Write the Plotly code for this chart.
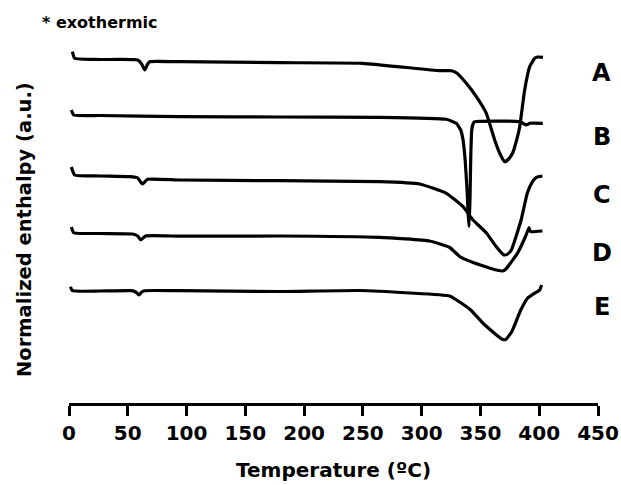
import plotly.graph_objects as go

# Temperature (°C) and normalized enthalpy (a.u., arbitrary offset scale) for each sample
temp_A = [2.9, 4.8, 26.1, 58.4, 61.8, 64.4, 66.9, 68.6, 94.2, 179.2, 249.8, 315.3, 325.5, 329.8,
          338.0, 346.5, 355.0, 362.1, 366.3, 370.6, 374.0, 377.4, 380.8, 383.4, 387.6, 391.9,
          396.2, 398.7, 403.2]
enth_A = [351.3, 344.7, 343.5, 343.0, 339.0, 333.0, 339.0, 341.3, 341.3, 340.3, 339.7, 332.3,
          332.3, 330.0, 319.7, 306.3, 289.7, 263.0, 250.0, 241.3, 244.0, 250.0, 263.0, 276.3,
          313.0, 336.3, 344.7, 346.0, 345.7]

temp_B = [2.0, 4.0, 26.1, 94.2, 179.2, 264.1, 321.0, 329.5, 333.2, 335.2, 337.0, 338.6, 339.6,
          340.3, 341.1, 341.7, 342.6, 343.7, 345.1, 383.4, 389.1, 391.9, 403.0]
enth_B = [293.0, 288.0, 287.5, 286.3, 286.0, 285.7, 283.7, 279.7, 273.0, 263.0, 243.0, 213.0,
          188.0, 176.3, 203.0, 243.0, 273.0, 279.0, 281.3, 281.3, 278.0, 279.7, 279.7]

temp_C = [2.0, 4.8, 26.1, 51.7, 58.4, 62.4, 66.9, 94.2, 179.2, 264.1, 298.3, 321.0, 335.2,
          343.7, 355.1, 363.0, 369.9, 373.2, 376.3, 384.6, 389.9, 394.3, 397.6, 402.7]
enth_C = [236.0, 228.0, 227.0, 226.3, 225.0, 219.0, 223.7, 223.0, 222.3, 221.3, 219.0, 209.7,
          196.3, 183.0, 170.0, 157.0, 148.0, 149.0, 153.0, 183.0, 210.0, 221.3, 225.7, 227.0]

temp_D = [2.0, 4.0, 26.1, 54.2, 58.4, 61.0, 65.2, 94.2, 179.2, 264.1, 306.8, 323.9, 332.3,
          343.7, 363.6, 369.0, 372.1, 381.6, 388.5, 391.3, 392.3, 393.3, 402.7]
enth_D = [176.0, 170.3, 169.5, 169.0, 167.0, 163.0, 167.0, 166.8, 167.0, 165.7, 162.0, 155.5,
          146.5, 140.5, 133.0, 132.0, 134.5, 150.0, 167.0, 175.5, 172.0, 171.3, 172.0]

temp_E = [1.2, 2.9, 26.1, 53.1, 56.7, 59.5, 61.8, 64.4, 94.2, 179.2, 247.2, 290.0, 323.8,
          332.3, 341.7, 352.8, 368.1, 371.5, 376.5, 384.3, 390.2, 397.8, 400.4, 402.0]
enth_E = [116.3, 112.3, 112.0, 112.3, 111.0, 108.0, 111.0, 112.3, 112.3, 111.5, 112.5, 110.0,
          107.0, 101.0, 93.0, 79.0, 64.0, 63.5, 71.0, 93.0, 105.0, 111.0, 113.0, 118.0]

series_names = ["A", "B", "C", "D", "E"]
label_levels = [330, 266, 208, 150, 96]

x_ticks = [0, 50, 100, 150, 200, 250, 300, 350, 400, 450]

curves = [(temp_A, enth_A), (temp_B, enth_B), (temp_C, enth_C), (temp_D, enth_D), (temp_E, enth_E)]

FONT = "DejaVu Sans"

fig = go.Figure()
for name, (tx, ey) in zip(series_names, curves):
    fig.add_trace(go.Scatter(
        x=tx, y=ey, mode="lines", name=name,
        line=dict(color="black", width=3.2, shape="spline", smoothing=0.4),
        showlegend=False,
    ))

annotations = []
for name, lvl in zip(series_names, label_levels):
    annotations.append(dict(
        text=name, xref="paper", yref="y", x=1.007, y=lvl,
        xanchor="center", yanchor="middle", showarrow=False,
        font=dict(family=FONT, size=24, color="black", weight="bold"),
    ))

annotations.append(dict(
    text="* exothermic", xref="paper", yref="paper", x=-0.0548, y=1.0214,
    xanchor="left", yanchor="middle", showarrow=False,
    font=dict(family=FONT, size=16, color="black", weight="bold"),
))
annotations.append(dict(
    text="Normalized enthalpy (a.u.)", xref="paper", yref="paper", x=-0.085, y=0.4638,
    xanchor="center", yanchor="middle", textangle=-90, showarrow=False,
    font=dict(family=FONT, size=19.5, color="black", weight="bold"),
))
annotations.append(dict(
    text="Temperature (ºC)", xref="paper", yref="paper", x=0.5, y=-0.1796,
    xanchor="center", yanchor="middle", showarrow=False,
    font=dict(family=FONT, size=20, color="black", weight="bold"),
))

fig.update_layout(
    template="none",
    width=621, height=485,
    margin=dict(l=69, r=23, t=30, b=82, autoexpand=False),
    paper_bgcolor="white", plot_bgcolor="white",
    annotations=annotations,
    xaxis=dict(
        range=[0, 450], tickvals=x_ticks, ticktext=[str(v) for v in x_ticks],
        automargin=False,
        showline=True, linewidth=3, linecolor="black",
        ticks="outside", ticklen=10, tickwidth=3, tickcolor="black",
        showgrid=False, zeroline=False,
        tickfont=dict(family=FONT, size=20, color="black", weight="bold"),
    ),
    yaxis=dict(range=[0, 373], visible=False, showgrid=False, zeroline=False,
               automargin=False),
)

fig.write_html("out.html")
